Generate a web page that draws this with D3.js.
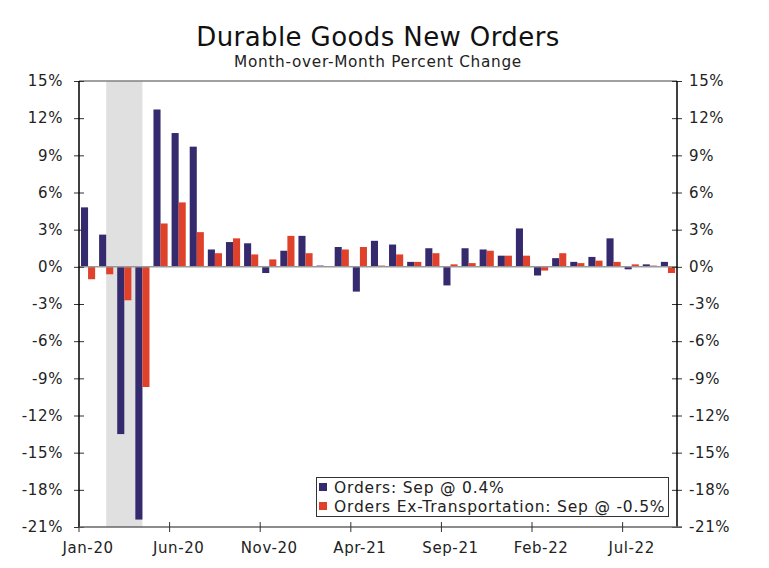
<!DOCTYPE html>
<html>
<head>
<meta charset="utf-8">
<script src="https://cdn.jsdelivr.net/npm/d3@7/dist/d3.min.js"></script>
<style>
body{margin:0;background:#fff;}
svg{display:block;font-family:"DejaVu Sans",Verdana,sans-serif;}
</style>
</head>
<body>
<svg id="c" width="769" height="568"></svg>
<script>
const months = ["Jan-20","Feb-20","Mar-20","Apr-20","May-20","Jun-20","Jul-20","Aug-20","Sep-20","Oct-20","Nov-20","Dec-20",
"Jan-21","Feb-21","Mar-21","Apr-21","May-21","Jun-21","Jul-21","Aug-21","Sep-21","Oct-21","Nov-21","Dec-21",
"Jan-22","Feb-22","Mar-22","Apr-22","May-22","Jun-22","Jul-22","Aug-22","Sep-22"];
const orders = [4.8,2.6,-13.5,-20.4,12.7,10.8,9.7,1.4,2.0,1.9,-0.5,1.3,
2.5,0.1,1.6,-2.0,2.1,1.8,0.4,1.5,-1.5,1.5,1.4,0.9,
3.1,-0.7,0.7,0.4,0.8,2.3,-0.2,0.2,0.4];
const exTransport = [-1.0,-0.6,-2.7,-9.7,3.5,5.2,2.8,1.1,2.3,1.0,0.6,2.5,
1.1,0.05,1.4,1.6,0.1,1.0,0.4,1.1,0.2,0.3,1.3,0.9,
0.9,-0.3,1.1,0.3,0.5,0.4,0.2,0.1,-0.5];
const yTicks = [15,12,9,6,3,0,-3,-6,-9,-12,-15,-18,-21];
const xTickLabels = ["Jan-20","Jun-20","Nov-20","Apr-21","Sep-21","Feb-22","Jul-22"];
const recession = ["Feb-20","Apr-20"];
const seriesNames = ["Orders: Sep @ 0.4%","Orders Ex-Transportation: Sep @ -0.5%"];
const colors = ["#352a6e","#e0412a"];

const svg = d3.select("#c");
const L = 79, R = 677, T = 81, B = 527;
const x = d3.scaleBand().domain(months).range([L, R]).padding(0);
const bw = x.bandwidth();
const inner = d3.scaleBand().domain([0,1]).range([0, bw]).paddingInner(0).paddingOuter(0.28);
const y = d3.scaleLinear().domain([-21, 15]).range([B, T]);

// recession shade
svg.append("rect")
  .attr("x", x(recession[0]) + bw/2)
  .attr("y", T)
  .attr("width", x(recession[1]) - x(recession[0]))
  .attr("height", B - T)
  .attr("fill", "#e0e0e0");

// top border
svg.append("line").attr("x1", L).attr("x2", R).attr("y1", T).attr("y2", T)
  .attr("stroke", "#808080").attr("stroke-width", 1.5);

// bars
const data = months.map((m, i) => ({m, v: [orders[i], exTransport[i]]}));
const g = svg.append("g");
[0,1].forEach(s => {
  g.selectAll(".b"+s).data(data).enter().append("rect")
    .attr("x", d => x(d.m) + inner(s))
    .attr("width", inner.bandwidth())
    .attr("y", d => y(Math.max(0, d.v[s])))
    .attr("height", d => Math.abs(y(d.v[s]) - y(0)))
    .attr("fill", colors[s]);
});

// zero line
svg.append("line").attr("x1", L).attr("x2", R).attr("y1", y(0)).attr("y2", y(0))
  .attr("stroke", "#999").attr("stroke-width", 1.5);

const tickFont = t => t.attr("font-size", 15).attr("fill", "#222")
  .attr("font-family", "DejaVu Sans, Verdana, sans-serif").attr("letter-spacing", 0.6);

// left axis
const leftAxis = d3.axisLeft(y).tickValues(yTicks).tickSize(5).tickFormat(d => d + "%");
const la = svg.append("g").attr("transform", `translate(${L},0)`).call(leftAxis);
la.select(".domain").remove();
la.selectAll(".tick line").attr("x1", -5).attr("x2", 5).attr("stroke", "#333");
tickFont(la.selectAll(".tick text").attr("x", -16));
svg.append("line").attr("x1", L).attr("x2", L).attr("y1", T).attr("y2", B).attr("stroke", "#000").attr("stroke-width", 1.5);

// right axis
const rightAxis = d3.axisRight(y).tickValues(yTicks).tickSize(5).tickFormat(d => d + "%");
const ra = svg.append("g").attr("transform", `translate(${R},0)`).call(rightAxis);
ra.select(".domain").remove();
ra.selectAll(".tick line").attr("x1", -5).attr("x2", 5).attr("stroke", "#333");
tickFont(ra.selectAll(".tick text").attr("x", 12));
svg.append("line").attr("x1", R).attr("x2", R).attr("y1", T).attr("y2", B).attr("stroke", "#000").attr("stroke-width", 1.5);

// bottom axis
svg.append("line").attr("x1", L).attr("x2", R + 5).attr("y1", B).attr("y2", B)
  .attr("stroke", "#666").attr("stroke-width", 1.5);
const bottomAxis = d3.axisBottom(x).tickValues(xTickLabels).tickSize(0);
const ba = svg.append("g").attr("transform", `translate(0,${B})`).call(bottomAxis);
ba.select(".domain").remove();
tickFont(ba.selectAll(".tick text").attr("y", 15).attr("letter-spacing", 1.1));
ba.selectAll(".tick").each(function(d){
  d3.select(this).append("line").attr("x1", -bw/2).attr("x2", -bw/2).attr("y1", -5).attr("y2", 5).attr("stroke", "#333");
});

// title
svg.append("text").attr("x", 378).attr("y", 46).attr("text-anchor", "middle")
  .attr("font-size", 26).attr("letter-spacing", 0.4).attr("fill", "#111").text("Durable Goods New Orders");
svg.append("text").attr("x", 378).attr("y", 67).attr("text-anchor", "middle")
  .attr("font-size", 15.3).attr("letter-spacing", 0.7).attr("fill", "#222").text("Month-over-Month Percent Change");

// legend
const lg = svg.append("g");
lg.append("rect").attr("x", 316.5).attr("y", 477.5).attr("width", 352).attr("height", 39)
  .attr("fill", "#fff").attr("stroke", "#333").attr("stroke-width", 1);
seriesNames.forEach((n, i) => {
  lg.append("rect").attr("x", 319).attr("y", 483 + i*19).attr("width", 8).attr("height", 8).attr("fill", colors[i]);
  lg.append("text").attr("x", 334).attr("y", 493 + i*19).attr("font-size", 15.5)
    .attr("letter-spacing", 0.8).attr("fill", "#222").text(n);
});
</script>
</body>
</html>
